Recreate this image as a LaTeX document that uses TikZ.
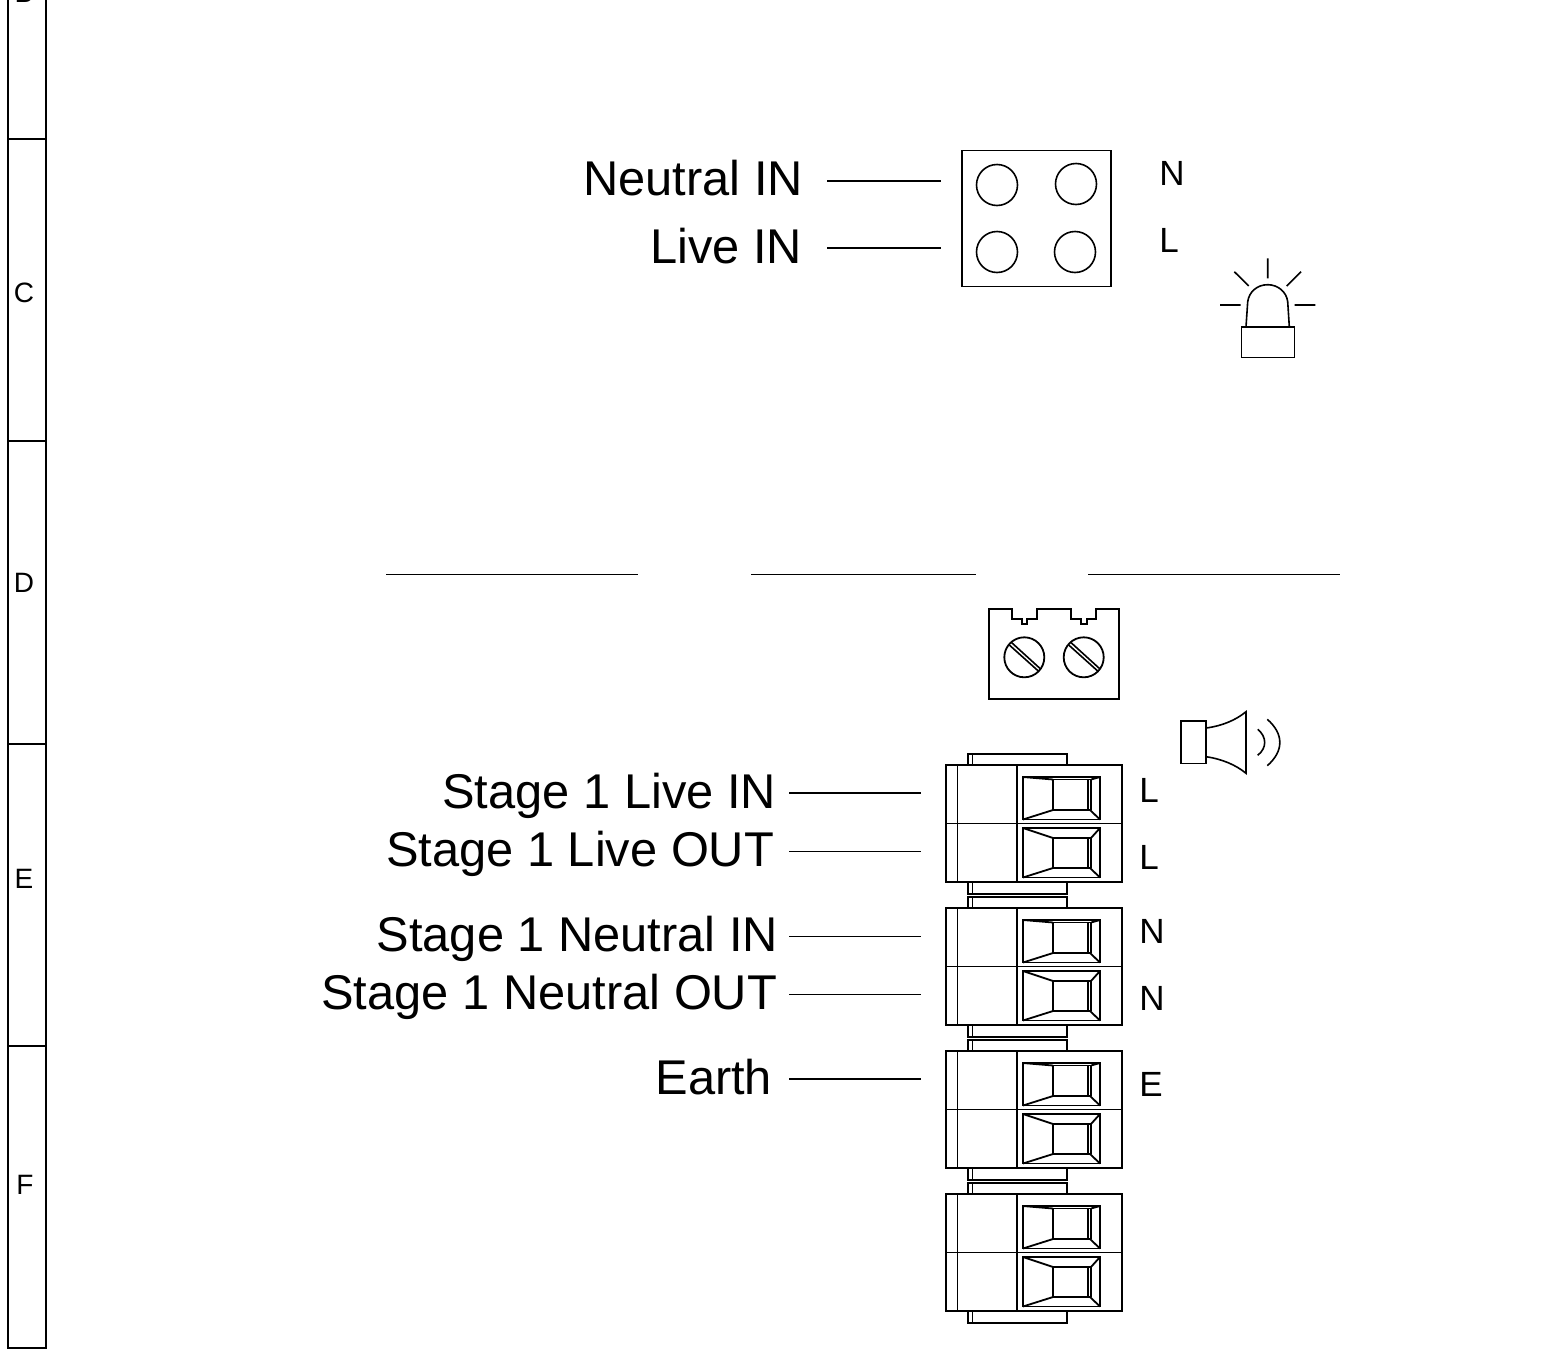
\documentclass[tikz,border=0pt]{standalone}
\usepackage{fontspec}
\setmainfont{Liberation Sans}
\tikzset{
  wire/.style={line width=.8pt},
  part/.style={line width=.9pt,line join=miter},
  biglabel/.style={font=\fontsize{24.4}{28}\selectfont,anchor=east,inner sep=0pt},
  pinlabel/.style={font=\fontsize{17.5}{20}\selectfont,inner sep=0pt},
  zonelabel/.style={font=\fontsize{14}{16}\selectfont,inner sep=0pt},
  % one double terminal block, origin at top left of its body
  termblock/.pic={
    \draw[part] (0,0) rectangle (176,117);
    \draw[part] (0,58.5) -- (176,58.5);
    \draw[part] (11.5,0) -- (11.5,117) (71,0) -- (71,117);
    % top and bottom tabs
    \draw[part] (22,0) |- (121,-11) -- (121,0) (26.5,0) -- (26.5,-11);
    \draw[part] (22,117) |- (121,129) -- (121,117) (26.5,117) -- (26.5,129);
    % upper window
    \draw[part] (77,12) rectangle (154,54.5);
    \draw[part] (107,14.5) rectangle (142,45);
    \draw[part] (145,14.5) -- (145,45) (107,14.5) -- (145,14.5) (107,45) -- (145,45);
    \draw[part] (77,12) -- (107,14.5) (77,54.5) -- (107,45)
      (154,12) -- (145,14.5) (154,54.5) -- (144,45);
    % lower window
    \draw[part] (77,63) rectangle (154,112.5);
    \draw[part] (107,73) rectangle (142,103);
    \draw[part] (145,73) -- (145,103) (107,73) -- (145,73) (107,103) -- (145,103);
    \draw[part] (77,63) -- (107,73) (77,112.5) -- (107,103)
      (154,63) -- (145,73) (154,112.5) -- (144,103);
  },
  slotscrew/.pic={
    \draw[part] (0,0) circle (20);
    \draw[wire] (-15,-12.3) -- (14,13.7) (-12.7,-14.7) -- (16.3,11.7);
  }
}
\begin{document}
\begin{tikzpicture}[x=.5pt,y=-.5pt]
  \useasboundingbox (0,0) rectangle (1557,1349);
  \clip (0,0) rectangle (1557,1349);

  % zone strip on the left
  \draw[part] (8,-30) -- (8,1348) -- (46,1348) -- (46,-30);
  \foreach \y in {139,441,744,1046}
  \draw[part] (8,\y) -- (46,\y);
  \foreach \name/\x/\y in {B/24/-7,C/24/293,D/24/583,E/24/879,F/25/1185}
  \node[zonelabel] (zone-\name) at (\x,\y) {\name};

  % supply connector
  \draw[part] (962,150.5) rectangle (1111,286.5);
  \foreach \x/\y in {997/185,1076/184,997/252,1075/252}
  \draw[wire] (\x,\y) circle (20.5);
  \foreach \lname/\x/\y/\txt/\xa/\ya in {
    nin/803.5/178/Neutral IN/827/181,
    lin/802.5/246/Live IN/827/248}
  {
    \node[biglabel] (lbl-\lname) at (\x,\y) {\txt};
    \coordinate (from-\lname) at (\xa,\ya);
    \coordinate (to-\lname) at (941,\ya);
    \draw[wire] (from-\lname) -- (to-\lname);
  }

  % beacon
  \draw[wire] (1241.3,326.7) rectangle (1294.3,357.3);
  \draw[wire] (1246,326.7) -- (1247.7,301.7)
    .. controls (1249,292) and (1257,284.7) .. (1267.7,284.7)
    .. controls (1278,284.7) and (1286.5,292) .. (1287.7,301.7) -- (1289.3,326.7);
  \draw[wire] (1267.7,258.3) -- (1267.7,278.3)
    (1234.3,271.7) -- (1248.7,286)
    (1301,271.7) -- (1286.7,286)
    (1220,305) -- (1240.7,305)
    (1294.7,305) -- (1315.3,305);

  % empty title lines
  \foreach \xa/\xb in {386/638,751/976,1088/1340}
  \draw[wire] (\xa,574.5) -- (\xb,574.5);

  % two way screw terminal
  \draw[part] (989,609.3) -- (1011.7,609.3) -- (1011.7,619) -- (1021.7,619)
    -- (1021.7,624) -- (1027.3,624) -- (1027.3,619) -- (1037.3,619)
    -- (1037.3,609.3) -- (1070.7,609.3) -- (1070.7,619) -- (1080.7,619)
    -- (1080.7,624) -- (1086.7,624) -- (1086.7,619) -- (1096.3,619)
    -- (1096.3,609.3) -- (1119,609.3) -- (1119,699) -- (989,699) -- cycle;
  \pic at (1024.3,657.3) {slotscrew};
  \pic at (1083.7,657.3) {slotscrew};

  % sounder
  \draw[wire] (1181,721) rectangle (1206,763.3);
  \draw[wire] (1206,728) .. controls (1222,726) and (1236,720) .. (1246,711.7)
    -- (1246,773.3) .. controls (1236,765) and (1222,759) .. (1206,756.7);
  \draw[wire] (1257.7,729.3) .. controls (1267,737) and (1267,748) .. (1257.7,755.3);
  \draw[wire] (1267.3,719.3) .. controls (1284,734) and (1284,751) .. (1267.3,765.7);

  % terminal blocks
  \foreach \y in {765,908,1051,1194}
  \pic at (946,\y) {termblock};

  \foreach \lname/\x/\y/\txt/\ya in {
    sli/776.5/796/Stage 1 Live IN/793,
    slo/774.5/854/Stage 1 Live OUT/851.5,
    sni/778.5/939/Stage 1 Neutral IN/936.5,
    sno/777.5/997/Stage 1 Neutral OUT/994.5,
    ear/772.5/1077/Earth/1079}
  {
    \node[biglabel] (lbl-\lname) at (\x,\y) {\txt};
    \coordinate (from-\lname) at (789,\ya);
    \coordinate (to-\lname) at (921,\ya);
    \draw[wire] (from-\lname) -- (to-\lname);
  }

  % pin letters
  \foreach \name/\txt/\x/\y in {
    a/N/1172/173,b/L/1169/240,c/L/1149/790,d/L/1149/857,
    e/N/1152/931,f/N/1152/998,g/E/1151/1084}
  \node[pinlabel] (pin-\name) at (\x,\y) {\txt};
\end{tikzpicture}
\end{document}
